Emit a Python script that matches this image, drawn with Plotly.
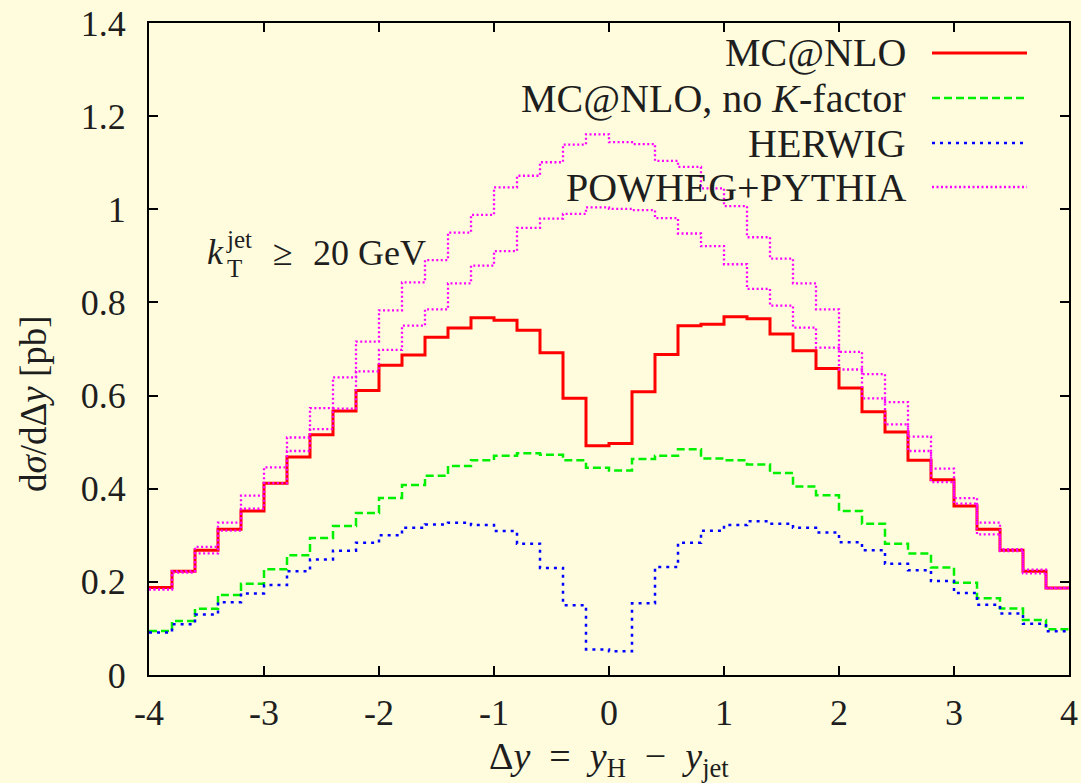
import plotly.graph_objects as go

# ---------------- data ----------------
bin_lo = -4.0
bin_width = 0.2
n_bins = 40

mcatnlo = [0.188, 0.223, 0.268, 0.313, 0.352, 0.412, 0.468, 0.516, 0.567, 0.611,
           0.665, 0.687, 0.725, 0.745, 0.767, 0.762, 0.740, 0.692, 0.594, 0.492,
           0.497, 0.608, 0.688, 0.750, 0.753, 0.769, 0.765, 0.732, 0.696, 0.658,
           0.616, 0.565, 0.522, 0.461, 0.419, 0.363, 0.313, 0.268, 0.223, 0.187]

mcatnlo_noK = [0.0945, 0.116, 0.142, 0.172, 0.196, 0.227, 0.257, 0.294, 0.320, 0.348,
               0.380, 0.408, 0.428, 0.449, 0.461, 0.471, 0.476, 0.473, 0.461, 0.445,
               0.439, 0.464, 0.471, 0.485, 0.465, 0.461, 0.452, 0.434, 0.405, 0.386,
               0.352, 0.325, 0.282, 0.261, 0.231, 0.198, 0.165, 0.143, 0.118, 0.098]

herwig = [0.091, 0.109, 0.130, 0.156, 0.175, 0.193, 0.223, 0.248, 0.267, 0.284,
          0.300, 0.316, 0.323, 0.327, 0.322, 0.309, 0.282, 0.230, 0.150, 0.055,
          0.051, 0.154, 0.232, 0.284, 0.310, 0.322, 0.330, 0.325, 0.316, 0.306,
          0.285, 0.268, 0.239, 0.225, 0.202, 0.176, 0.151, 0.132, 0.110, 0.094]

powheg_a = [0.184, 0.223, 0.275, 0.327, 0.385, 0.446, 0.510, 0.573, 0.639, 0.716,
            0.783, 0.843, 0.891, 0.950, 0.988, 1.047, 1.072, 1.101, 1.139, 1.161,
            1.144, 1.140, 1.104, 1.091, 1.045, 1.007, 0.940, 0.894, 0.841, 0.785,
            0.694, 0.646, 0.586, 0.512, 0.443, 0.380, 0.327, 0.270, 0.226, 0.187]

powheg_b = [0.184, 0.220, 0.261, 0.310, 0.357, 0.412, 0.481, 0.528, 0.572, 0.652,
            0.698, 0.750, 0.785, 0.841, 0.879, 0.910, 0.960, 0.980, 0.990, 1.004,
            1.001, 0.998, 0.981, 0.948, 0.921, 0.882, 0.829, 0.793, 0.746, 0.703,
            0.656, 0.594, 0.538, 0.481, 0.414, 0.368, 0.302, 0.266, 0.218, 0.186]

x_tickvals = [-4, -3, -2, -1, 0, 1, 2, 3, 4]
x_ticktext = ["-4", "-3", "-2", "-1", "0", "1", "2", "3", "4"]
y_tickvals = [0, 0.2, 0.4, 0.6, 0.8, 1.0, 1.2, 1.4]
y_ticktext = ["0", "0.2", "0.4", "0.6", "0.8", "1", "1.2", "1.4"]

legend_labels = ["MC@NLO", "MC@NLO, no <i>K</i>-factor", "HERWIG", "POWHEG+PYTHIA"]

# ---------------- styling ----------------
BG = "#FEFCDD"
FONT = "'Liberation Serif', 'Times New Roman', 'DejaVu Serif', serif"
TXT = "#1e1e1e"
FS = 36
FS_LEG = 40

styles = [
    dict(color="#FF0000", width=3, dash="solid"),
    dict(color="#00F000", width=2.5, dash="8px,4px"),
    dict(color="#0000FF", width=2.5, dash="3px,5px"),
    dict(color="#FF00FF", width=2.3, dash="2px,2.5px"),
]

edges = [bin_lo + bin_width * i for i in range(n_bins + 1)]


def step(vals):
    return edges, list(vals) + [vals[-1]]


fig = go.Figure()
series = [(mcatnlo, styles[0]), (mcatnlo_noK, styles[1]), (herwig, styles[2]),
          (powheg_a, styles[3]), (powheg_b, styles[3])]
for vals, st in series:
    xs, ys = step(vals)
    fig.add_trace(go.Scatter(x=xs, y=ys, mode="lines", line_shape="hv",
                             line=st, showlegend=False, hoverinfo="skip"))

L, R, T, B = 149, 12, 23, 108
W, H = 1081, 783
pw, ph = W - L - R, H - T - B


def px(x):
    return (x - L) / pw


def py(y):
    return (H - B - y) / ph


def ann(x, y, text, size, xanchor="left", **kw):
    d = dict(x=px(x), y=py(y), xref="paper", yref="paper", text=text, showarrow=False,
             xanchor=xanchor, yanchor="middle", font=dict(family=FONT, size=size, color=TXT))
    d.update(kw)
    return d


annotations = []
shapes = []
rows = [53, 98, 143, 187]
for lab, st, yy in zip(legend_labels, styles, rows):
    annotations.append(ann(908, yy, lab, FS_LEG, xanchor="right"))
    shapes.append(dict(type="line", xref="paper", yref="paper",
                       x0=px(932), x1=px(1027), y0=py(yy), y1=py(yy),
                       line=dict(color=st["color"], width=st["width"], dash=st["dash"])))

# k_T^jet >= 20 GeV
annotations += [
    ann(205, 252, "<i>k</i>", FS),
    ann(224, 240, "jet", 25),
    ann(225, 268, "T", 25),
    ann(271, 253, "≥", FS),
    ann(311, 253, "20 GeV", FS),
]

# axis titles
annotations.append(ann(609, 759,
                       "Δ<i>y</i>\u2002=\u2002<i>y</i><sub>H</sub>\u2002−\u2002<i>y</i><sub>jet</sub>",
                       38, xanchor="center"))
annotations.append(ann(33, 404, "d<i>σ</i>/dΔ<i>y</i> [pb]", 37, xanchor="center",
                       textangle=-90))

axis_common = dict(showgrid=False, zeroline=False, showline=True, linecolor="black",
                   linewidth=2, mirror="allticks", ticks="inside", ticklen=9,
                   tickwidth=1.5, tickcolor="black", automargin=False,
                   tickfont=dict(family=FONT, size=FS, color=TXT))

fig.update_layout(
    width=W, height=H,
    margin=dict(l=L, r=R, t=T, b=B, pad=0, autoexpand=False),
    paper_bgcolor=BG, plot_bgcolor=BG,
    showlegend=False,
    font=dict(family=FONT, size=FS, color=TXT),
    xaxis=dict(range=[-4, 4], tickvals=x_tickvals, ticktext=x_ticktext,
               ticklabelstandoff=5, **axis_common),
    yaxis=dict(range=[0, 1.4], tickvals=y_tickvals, ticktext=y_ticktext,
               ticklabelstandoff=14, **axis_common),
    annotations=annotations,
    shapes=shapes,
)

fig.write_html("out.html")
